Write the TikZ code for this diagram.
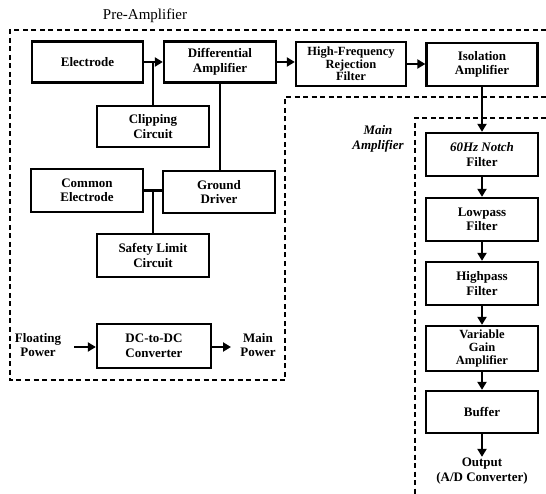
\documentclass[tikz,border=0pt]{standalone}
\usepackage{fontspec}
\setmainfont{Liberation Serif}
\usetikzlibrary{arrows.meta}
\begin{document}
\begin{tikzpicture}[x=1pt,y=-1pt,
  txt/.style={font=\bfseries\fontsize{13}{14.5}\selectfont},
  blk/.style={draw,line width=2.3pt,align=center,inner sep=1pt,txt,minimum width=112pt,minimum height=43pt},
  lbl/.style={align=center,txt,inner sep=1pt},
  conn/.style={line width=2.3pt},
  thin/.style={line width=1.6pt},
  arr/.style={line width=2.3pt,-{Triangle[length=8pt,width=9pt]}},
  region/.style={line width=1.3pt,dash pattern=on 5pt off 3.5pt}
]
\useasboundingbox (0,0) rectangle (546,494);
% regions
\draw[region] (546,30) -- (10,30) -- (10,380) -- (285,380) -- (285,97) -- (546,97);
\draw[region] (546,118) -- (415,118) -- (415,494);
\node[font=\fontsize{15}{16}\selectfont] (tpre) at (145,16) {Pre-Amplifier};
\node[lbl,font=\bfseries\itshape\fontsize{13}{15}\selectfont] (tmain) at (378,139) {Main\\Amplifier};
% blocks
\node[blk,minimum width=111pt,minimum height=41pt] (el) at (87.5,62) {Electrode};
\node[blk,minimum height=41pt] (da) at (220,62) {Differential\\Amplifier};
\node[blk,minimum height=41pt] (cc) at (153,126.5) {Clipping\\Circuit};
\node[blk,minimum width=110pt,minimum height=44pt,font=\bfseries\fontsize{12.5}{12.5}\selectfont] (hf) at (351,64) {High-Frequency\\Rejection\\Filter};
\node[blk,minimum width=111pt] (iso) at (482,64.5) {Isolation\\Amplifier};
\node[blk] (ce) at (87,190.5) {Common\\Electrode};
\node[blk,minimum height=42pt] (gd) at (219,192) {Ground\\Driver};
\node[blk] (sl) at (153,255.5) {Safety Limit\\Circuit};
\node[blk,minimum width=114pt,minimum height=44pt] (dc) at (154,346) {DC-to-DC\\Converter};
\node[lbl] (fp) at (38,345) {Floating\\Power};
\node[lbl] (mp) at (258,345) {Main\\Power};
\node[blk] (nf) at (482,154.5) {\textit{60Hz Notch}\\Filter};
\node[blk] (lp) at (482,219.5) {Lowpass\\Filter};
\node[blk] (hp) at (482,283.5) {Highpass\\Filter};
\node[blk,minimum height=45pt,font=\bfseries\fontsize{12.5}{13}\selectfont] (vg) at (482,348.5) {Variable\\Gain\\Amplifier};
\node[blk,minimum height=42pt] (bf) at (482,412) {Buffer};
\node[lbl] (out) at (482,471) {Output\\(A/D Converter)};
% connectors
\draw[arr] (el.east) -- (da.west);
\draw[thin] (cc.north) -- (cc.north |- el.east);
\draw[arr] (da.east) -- (hf.west |- da.east);
\draw[arr] (hf.east) -- (iso.west |- hf.east);
\draw[conn] (gd.north -| da.south) -- (da.south);
\draw[conn] (ce.east) -- (gd.west |- ce.east);
\draw[thin] (sl.north) -- (sl.north |- ce.east);
\coordinate (fpa) at (74,347);
\draw[arr] (fpa) -- (dc.west |- fpa);
\coordinate (mpa) at (231,347);
\draw[arr] (dc.east |- mpa) -- (mpa);
\draw[arr] (iso.south) -- (nf.north);
\draw[arr] (nf.south) -- (lp.north);
\draw[arr] (lp.south) -- (hp.north);
\draw[arr] (hp.south) -- (vg.north);
\draw[arr] (vg.south) -- (bf.north);
\draw[arr] (bf.south) -- (out.north);
\end{tikzpicture}
\end{document}
